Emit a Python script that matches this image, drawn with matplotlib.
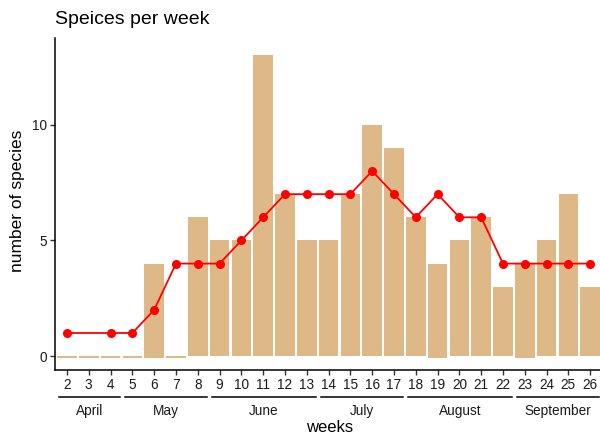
import matplotlib.pyplot as plt

plt.rcParams['font.family'] = ['Liberation Sans', 'DejaVu Sans']

weeks = list(range(2, 27))
# species recorded in each week (bars)
species = [0, 0, 0, 0, 4, 0, 6, 5, 5, 13, 7, 5, 5, 7, 10, 9, 6, 4, 5, 6, 3, 4, 5, 7, 3]
# small offset below zero seen on some bars
bar_base = [-0.06, -0.06, -0.06, -0.06, -0.06, -0.06, 0, 0, 0, 0, 0, 0, 0,
            0, 0, 0, 0, -0.06, 0, 0, 0, -0.06, 0, 0, 0]

# running line (week 3 has no point)
line_weeks = [2, 4, 5, 6, 7, 8, 9, 10, 11, 12, 13, 14, 15, 16, 17, 18, 19, 20,
              21, 22, 23, 24, 25, 26]
line_vals = [1, 1, 1, 2, 4, 4, 4, 5, 6, 7, 7, 7, 7, 8, 7, 6, 7, 6, 6, 4, 4, 4, 4, 4]

months = ['April', 'May', 'June', 'July', 'August', 'September']
month_start = [2, 5, 9, 14, 18, 23]
month_end = [4, 8, 13, 17, 22, 26]

fig = plt.figure(figsize=(6, 4.38), dpi=100)
ax = fig.add_axes([55 / 600, 68 / 438, 545 / 600, 332 / 438])

heights = [s - b for s, b in zip(species, bar_base)]
ax.bar(weeks, heights, bottom=bar_base, width=0.9, color='#DEB887', zorder=1)
ax.plot(line_weeks, line_vals, color='red', lw=1.3, marker='o', ms=5.5, zorder=3)

ax.set_xlim(1.45, 26.45)
ax.set_ylim(-0.6, 13.75)
ax.set_xticks(weeks)
ax.set_xticklabels([str(w) for w in weeks])
ax.set_yticks([0, 5, 10])
ax.tick_params(axis='both', labelsize=9.8, length=3.5, width=1, color='#333333',
               labelcolor='#1a1a1a', pad=2.5)

for side in ['top', 'right']:
    ax.spines[side].set_visible(False)
for side in ['left', 'bottom']:
    ax.spines[side].set_linewidth(1.1)
    ax.spines[side].set_color('black')

# month brackets under the week numbers
for name, a, b in zip(months, month_start, month_end):
    x0 = ax.transData.transform((a - 0.35, 0))[0] / 600
    x1 = ax.transData.transform((b + 0.42, 0))[0] / 600
    fig.add_artist(plt.Line2D([x0, x1], [1 - 397 / 438] * 2, color='black', lw=1.1))
    fig.text((x0 + x1) / 2, 1 - 411 / 438, name, ha='center', va='center',
             fontsize=9.8, color='#1a1a1a')

fig.text(330 / 600, 1 - 428 / 438, 'weeks', ha='center', va='center', fontsize=12)
fig.text(18 / 600, 1 - 201 / 438, 'number of species', ha='center', va='center',
         rotation=90, fontsize=12.5)
fig.text(55 / 600, 1 - 19 / 438, 'Speices per week', ha='left', va='center',
         fontsize=14)

fig.savefig('out.png', dpi=100)
